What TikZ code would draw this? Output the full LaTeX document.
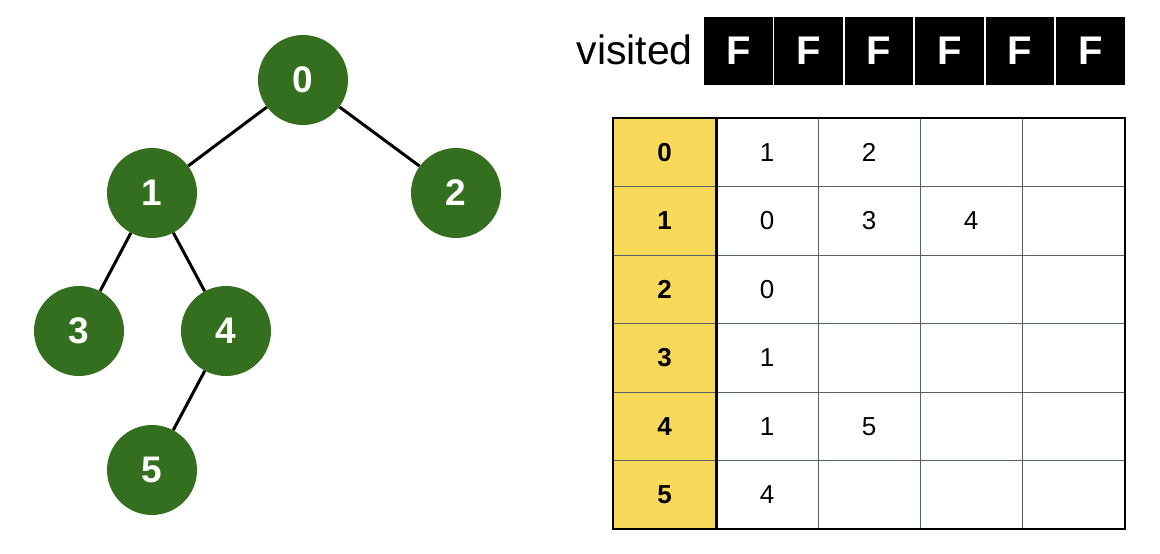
\documentclass[tikz,border=0pt]{standalone}
\usepackage{fontspec}
\setmainfont{Liberation Sans}
\definecolor{nodegreen}{HTML}{336F1F}
\definecolor{headyellow}{HTML}{F8D959}
\definecolor{gridgray}{HTML}{56606B}
\begin{document}
\begin{tikzpicture}[x=1pt,y=-1pt,
  vnode/.style={circle,fill=nodegreen,minimum size=90pt,inner sep=0pt,text=white,font=\fontsize{37}{40}\selectfont\bfseries},
  edge/.style={line width=3pt,black},
  vbox/.style={fill=black,minimum width=68.5pt,minimum height=68pt,inner sep=0pt,text=white,font=\fontsize{40}{44}\selectfont\bfseries},
  headtxt/.style={font=\fontsize{26}{30}\selectfont\bfseries},
  celltxt/.style={font=\fontsize{26}{30}\selectfont}]
\useasboundingbox (0,0) rectangle (1160,554);
% tree
\node[vnode] (n0) at (303,80) {0};
\node[vnode] (n1) at (152,193) {1};
\node[vnode] (n2) at (456,193) {2};
\node[vnode] (n3) at (79,331) {3};
\node[vnode] (n4) at (226,331) {4};
\node[vnode] (n5) at (152,470) {5};
\begin{scope}[on background layer/.style={}]
\draw[edge] (n0) -- (n1);
\draw[edge] (n0) -- (n2);
\draw[edge] (n1) -- (n3);
\draw[edge] (n1) -- (n4);
\draw[edge] (n4) -- (n5);
\end{scope}
% visited
\node[anchor=east,font=\fontsize{41}{44}\selectfont,inner sep=0pt] (vlabel) at (693,50) {visited};
\foreach \i in {0,...,5}{
  \node[vbox] (v\i) at ({738.25+70.4*\i},51) {F};
}
% table
\fill[headyellow] (613,118) rectangle (716,529);
\foreach \y in {186.5,255,323.5,392,460.5}{
  \draw[gridgray,line width=1pt] (613,\y) -- (1125,\y);
}
\foreach \x in {818,920,1022}{
  \draw[gridgray,line width=1pt] (\x,118) -- (\x,529);
}
\draw[black,line width=3pt] (716,118) -- (716,529);
\draw[black,line width=1.5pt] (613,118) rectangle (1125,529);
\foreach \r in {0,...,5}{
  \node[headtxt] (h\r) at (664.5,{118+68.5*(\r+0.5)}) {\r};
}
\node[celltxt] (c01) at (767,152.25) {1};
\node[celltxt] (c02) at (869,152.25) {2};
\node[celltxt] (c11) at (767,220.75) {0};
\node[celltxt] (c12) at (869,220.75) {3};
\node[celltxt] (c13) at (971,220.75) {4};
\node[celltxt] (c21) at (767,289.25) {0};
\node[celltxt] (c31) at (767,357.75) {1};
\node[celltxt] (c41) at (767,426.25) {1};
\node[celltxt] (c42) at (869,426.25) {5};
\node[celltxt] (c51) at (767,494.75) {4};
\end{tikzpicture}
\end{document}
